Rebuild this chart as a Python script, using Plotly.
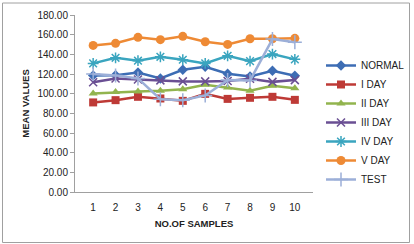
import plotly.graph_objects as go

samples = ["1", "2", "3", "4", "5", "6", "7", "8", "9", "10"]
normal = [118.6, 118.8, 121.6, 115.5, 124.3, 127.3, 120.2, 117.5, 123.3, 118.2]
day1 = [91.1, 93.4, 96.8, 95.1, 92.7, 99.8, 94.7, 95.8, 96.8, 93.7]
day2 = [100.2, 101.6, 102.3, 103.0, 104.6, 109.0, 106.3, 102.9, 108.0, 105.6]
day3 = [111.7, 115.5, 114.5, 113.5, 112.5, 112.5, 112.8, 115.1, 112.0, 113.8]
day4 = [130.8, 136.5, 133.5, 137.5, 134.5, 130.8, 138.5, 133.1, 140.3, 134.9]
day5 = [149.1, 151.2, 157.3, 154.9, 158.3, 152.8, 150.1, 155.9, 155.9, 156.3]
test = [119.9, 118.6, 115.5, 94.4, 93.4, 98.2, 113.8, 113.5, 155.5, 152.2]

series = [
    ("NORMAL", normal, "#3D6DB4", "diamond", 8),
    ("I DAY", day1, "#BE3A36", "square", 8),
    ("II DAY", day2, "#92B44E", "triangle-up", 8),
    ("III DAY", day3, "#6A4F93", "x-thin-open", 8),
    ("IV DAY", day4, "#3AA5BF", "asterisk-open", 9),
    ("V DAY", day5, "#EE8A35", "circle", 9),
    ("TEST", test, "#9CAFD8", "cross-thin-open", 10),
]

fig = go.Figure()
for name, vals, color, sym, sz in series:
    mk = dict(symbol=sym, size=sz, color=color)
    if sym.endswith("open"):
        mk["line"] = dict(color=color, width=1.5)
    fig.add_trace(go.Scatter(x=samples, y=vals, name=name, mode="lines+markers",
                             line=dict(color=color, width=2.5), marker=mk))

L, R, T, B = 75, 101, 15, 52
W, H = 414, 244
pw, ph = W - L - R, H - T - B

def px2x(p):
    return (p - L) / pw

def px2y(p):
    return (H - B - p) / ph

fig.update_layout(
    width=W, height=H,
    margin=dict(l=L, r=R, t=T, b=B, autoexpand=False),
    paper_bgcolor="white", plot_bgcolor="white",
    font=dict(family="Liberation Sans, Arial", size=10, color="#222"),
    showlegend=True,
    legend=dict(x=px2x(321), xanchor="left", y=px2y(122.5), yanchor="middle",
                font=dict(size=10, color="#222"), itemwidth=30, tracegroupgap=0,
                bgcolor="rgba(0,0,0,0)"),
    xaxis=dict(type="category", showgrid=False, showline=True, linecolor="#A0A0A0",
               linewidth=1, ticks="outside", ticklen=6, tickcolor="rgba(0,0,0,0)",
               tickfont=dict(size=10),
               title=dict(text="<b>NO.OF SAMPLES</b>", font=dict(size=9.5), standoff=8)),
    yaxis=dict(range=[0, 180], dtick=20, tickformat=".2f", showgrid=False, zeroline=False,
               showline=True, linecolor="#A0A0A0", linewidth=1, ticks="outside",
               ticklen=4, tickcolor="#A0A0A0", tickfont=dict(size=10),
               title=dict(text="<b>MEAN VALUES</b>", font=dict(size=9.5), standoff=6)),
    shapes=[dict(type="rect", xref="paper", yref="paper",
                 x0=px2x(2.5), x1=px2x(409.5), y0=px2y(242.5), y1=px2y(3),
                 line=dict(color="#A0A0A0", width=1), fillcolor="rgba(0,0,0,0)", layer="below")],
)

fig.write_html("out.html")
